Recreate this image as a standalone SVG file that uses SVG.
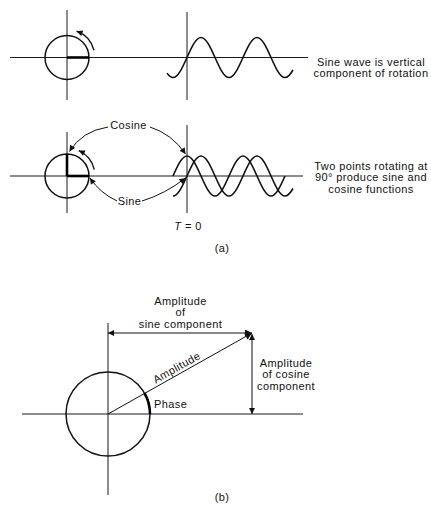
<svg xmlns="http://www.w3.org/2000/svg" width="431" height="506" viewBox="0 0 431 506">
<style>
.ax{stroke:#1a1a1a;stroke-width:1;fill:none}
.cir{stroke:#111;stroke-width:1.5;fill:none}
.wave{stroke:#111;stroke-width:1.6;fill:none}
.thick{stroke:#000;stroke-width:2.6;fill:none}
.rot{stroke:#111;stroke-width:1.4;fill:none}
.con{stroke:#111;stroke-width:1;fill:none}
text{font-family:"Liberation Sans",Arial,sans-serif;font-size:11px;letter-spacing:0.4px;fill:#111}
.m{text-anchor:middle}
</style>
<defs>
<marker id="ah" viewBox="0 0 10 10" refX="10" refY="5" markerWidth="8" markerHeight="6" markerUnits="userSpaceOnUse" orient="auto">
<path d="M0,0 L10,5 L0,10 Z" fill="#111"/>
</marker>
<marker id="ahb" viewBox="0 0 10 10" refX="10" refY="5" markerWidth="10" markerHeight="7" markerUnits="userSpaceOnUse" orient="auto">
<path d="M0,0 L10,5 L0,10 Z" fill="#111"/>
</marker>
<marker id="ahs" viewBox="0 0 10 10" refX="10" refY="5" markerWidth="8" markerHeight="6" markerUnits="userSpaceOnUse" orient="auto-start-reverse">
<path d="M0,0 L10,5 L0,10 Z" fill="#111"/>
</marker>
</defs>

<g id="rotation1">
<line class="ax" x1="10" y1="57.5" x2="308" y2="57.5"/>
<line class="ax" x1="67" y1="10" x2="67" y2="100"/>
<circle class="cir" cx="67" cy="57.5" r="22"/>
<line class="thick" x1="67" y1="57.5" x2="89" y2="57.5"/>
<path class="rot" d="M94,50.3 A28,28 0 0 0 76.6,31.2" marker-end="url(#ah)"/>
</g>

<g id="sinewave1">
<line class="ax" x1="187" y1="12" x2="187" y2="100"/>
<path class="wave" d="M167,73.1 C169,75.9 171,77.5 173,77.5 C178.07,77.5 182.43,67.75 187,57.5 C191.57,47.25 195.93,37.5 201,37.5 C206.07,37.5 210.43,47.25 215,57.5 C219.57,67.75 223.93,77.5 229,77.5 C234.07,77.5 238.43,67.75 243,57.5 C247.57,47.25 251.93,37.5 257,37.5 C262.07,37.5 266.43,47.25 271,57.5 C275.57,67.75 279.93,77.5 285,77.5 C288,77.5 291,73.5 293,70"/>
</g>

<g id="label1">
<text class="m" x="371" y="65.5">Sine wave is vertical</text>
<text class="m" x="371" y="77">component of rotation</text>
</g>

<g id="rotation2">
<line class="ax" x1="10" y1="176" x2="303" y2="176"/>
<line class="ax" x1="67" y1="132" x2="67" y2="213"/>
<circle class="cir" cx="67" cy="176" r="22"/>
<line class="thick" x1="67" y1="176" x2="89" y2="176"/>
<line class="thick" x1="67" y1="176" x2="67" y2="154"/>
<path class="rot" d="M94.3,169.7 A28,28 0 0 0 78.8,150.6" marker-end="url(#ah)"/>
</g>

<g id="waves2">
<line class="ax" x1="187" y1="125" x2="187" y2="213"/>
<path class="wave" d="M173,176 C177.57,165.75 181.93,156 187,156 C192.07,156 196.43,165.75 201,176 C205.57,186.25 209.93,196 215,196 C220.07,196 224.43,186.25 229,176 C233.57,165.75 237.93,156 243,156 C248.07,156 252.43,165.75 257,176 C261.57,186.25 265.93,196 271,196 C276.07,196 280.43,186.25 285,176"/>
<path class="wave" d="M173,196 C178.07,196 182.43,186.25 187,176 C191.57,165.75 195.93,156 201,156 C206.07,156 210.43,165.75 215,176 C219.57,186.25 223.93,196 229,196 C234.07,196 238.43,186.25 243,176 C247.57,165.75 251.93,156 257,156 C262.07,156 266.43,165.75 271,176 C275.57,186.25 279.93,196 285,196 C288,196 291,192 293,188.5"/>
</g>

<g id="cosine-label"><text class="m" x="128.5" y="129">Cosine</text></g>
<g id="sine-label"><text class="m" x="129.5" y="205">Sine</text></g>
<g id="label2">
<text class="m" x="371" y="169.5">Two points rotating at</text>
<text class="m" x="371" y="181">90° produce sine and</text>
<text class="m" x="371" y="192.5">cosine functions</text>
</g>
<g id="t0"><text class="m" x="188" y="230"><tspan font-style="italic">T</tspan> = 0</text></g>
<g id="caption-a"><text class="m" x="222" y="252">(a)</text></g>

<g id="phasor">
<line class="ax" x1="22" y1="414" x2="303" y2="414"/>
<line class="ax" x1="108" y1="323" x2="108" y2="495"/>
<circle class="cir" cx="108" cy="414" r="42"/>
<path class="thick" d="M144.5,393.2 A42,42 0 0 1 150,414"/>
</g>

<g id="amp-sine-label">
<text class="m" x="180.5" y="304.5">Amplitude</text>
<text class="m" x="180.5" y="316">of</text>
<text class="m" x="180.5" y="327.5">sine component</text>
</g>
<g id="amp-cos-label">
<text class="m" x="286" y="366.5">Amplitude</text>
<text class="m" x="286" y="378">of cosine</text>
<text class="m" x="286" y="389.5">component</text>
</g>
<g id="amp-label"><text class="m" transform="translate(178.5,370.9) rotate(-29.4)">Amplitude</text></g>
<g id="phase-label"><text x="154" y="408">Phase</text></g>
<g id="caption-b"><text class="m" x="222" y="500.5">(b)</text></g>

<g id="connectors">
<path class="con" d="M108,127 Q82,131 69.5,151.5" marker-end="url(#ah)"/>
<path class="con" d="M150,127 Q172,134 185.5,154" marker-end="url(#ah)"/>
<path class="con" d="M117,201 Q100,193 90,178" marker-end="url(#ah)"/>
<path class="con" d="M142,201 Q165,194 185.5,178" marker-end="url(#ah)"/>
<line class="con" x1="108" y1="333" x2="252" y2="333" marker-start="url(#ahs)" marker-end="url(#ahb)"/>
<line class="con" x1="108" y1="414" x2="252" y2="333" marker-end="url(#ahb)"/>
<line class="con" x1="252" y1="334" x2="252" y2="414" marker-start="url(#ahs)" marker-end="url(#ah)"/>
</g>
</svg>
